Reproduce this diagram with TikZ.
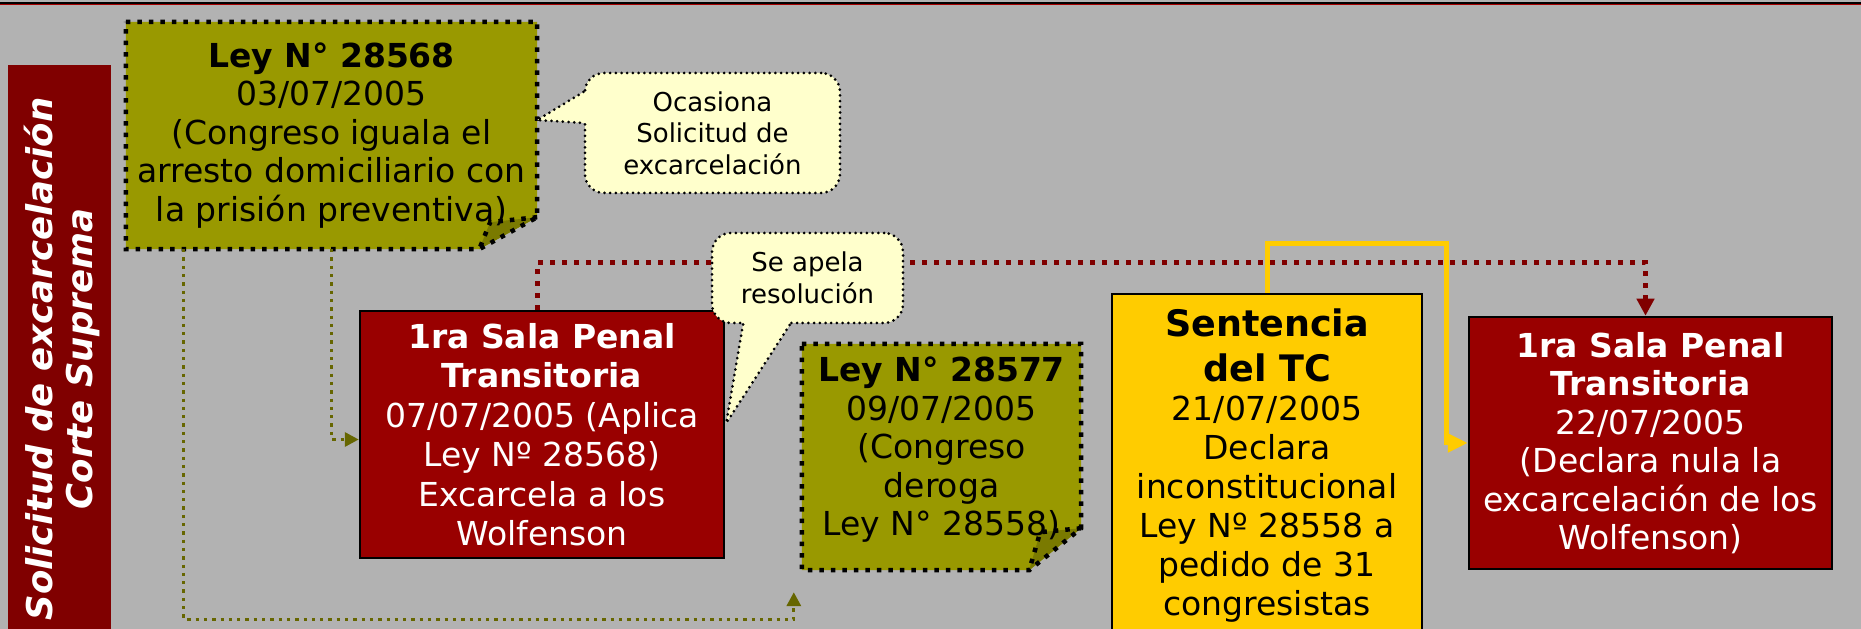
\documentclass[tikz,border=0pt]{standalone}
\usepackage{fontspec}
\setmainfont{DejaVu Sans}[ItalicFont={DejaVu Sans Oblique},BoldItalicFont={DejaVu Sans Bold Oblique}]
\usepackage{tikz}
\usetikzlibrary{positioning,arrows.meta,calc,backgrounds}
\definecolor{slate}{HTML}{B2B2B2}
\definecolor{maroon}{HTML}{800000}
\definecolor{crimson}{HTML}{990000}
\definecolor{olivefill}{HTML}{999900}
\definecolor{olivefold}{HTML}{7A7A00}
\definecolor{oliveline}{HTML}{666600}
\definecolor{notefill}{HTML}{FFFFCC}
\definecolor{amber}{HTML}{FFCC00}
\newcommand{\leysize}{\fontsize{33}{38.5}\selectfont}
\newcommand{\notesize}{\fontsize{26}{31.5}\selectfont}
\newcommand{\tcsize}{\fontsize{36.5}{45}\selectfont\bfseries}
\newcommand{\sidesize}{\fontsize{35.5}{40}\selectfont\bfseries\itshape}
\tikzset{
  leybox/.style={inner sep=0pt, align=center, font=\leysize},
  leyframe/.style={draw=black, line width=4.5pt, dash pattern=on 4.5pt off 7pt},
  salabox/.style={draw=black, line width=2.5pt, fill=crimson, text=white, inner sep=0pt, align=center, font=\leysize},
  tcbox/.style={draw=black, line width=2.5pt, fill=amber, inner sep=0pt, align=center, font=\fontsize{33}{39}\selectfont},
  notebox/.style={draw=black, line width=3pt, line cap=round, dash pattern=on 0pt off 5.7pt, fill=notefill, rounded corners=19pt, inner sep=0pt, align=center, font=\notesize},
  noteedge/.style={draw=black, line width=3pt, line cap=round, dash pattern=on 0pt off 5.7pt},
  sidebar/.style={fill=maroon, inner sep=0pt, minimum width=103pt},
  feedarrow/.style={-{Triangle[length=14pt,width=14pt]}, draw=oliveline, line width=3.3pt, dash pattern=on 3.3pt off 5pt},
  appealarrow/.style={-{Triangle[length=17pt,width=17pt]}, draw=maroon, line width=5pt, dash pattern=on 5pt off 7pt},
  rulingarrow/.style={-{Triangle[length=20pt,width=18pt]}, draw=amber, line width=5pt}
}
\begin{document}
\begin{tikzpicture}[x=1pt, y=1pt]
  \useasboundingbox (0,0) rectangle (1861,629);
  \begin{scope}[on background layer]
    \fill[slate] (0,0) rectangle (1861,629);
  \end{scope}
  \draw[black, line width=1.4pt] (0,625.9) -- (1861,625.9);
  \draw[maroon!70!red, line width=1.4pt] (0,624.6) -- (1861,624.6);
  \node[sidebar, minimum height=600pt, anchor=north] (bar) at (59.5,564) {};
  \node[font=\sidesize, text=white, rotate=90, align=center] (bartext) at (62,270) {Solicitud de excarcelación\\Corte Suprema};
  \node[leybox, minimum width=411pt, minimum height=227pt] (ley1) at (331.5,493.5) {\textbf{Ley N° 28568}\\03/07/2005\\(Congreso iguala el\\arresto domiciliario con\\la prisión preventiva)};
  \node[leybox, minimum width=279pt, minimum height=226pt] (ley2) at (941.5,172) {};
  \node[leybox, below=13pt of ley2.north] (ley2text) {\textbf{Ley N° 28577}\\09/07/2005\\(Congreso\\deroga\\Ley N° 28558)};
  \node[salabox, minimum width=364pt, minimum height=247pt, font=\fontsize{33}{39.5}\selectfont] (sala1) at (542,194.5) {\textbf{1ra Sala Penal}\\\textbf{Transitoria}\\07/07/2005 (Aplica\\Ley Nº 28568)\\Excarcela a los\\Wolfenson};
  \node[tcbox, minimum width=310pt, minimum height=344pt] (tc) at (1267,163) {{\tcsize Sentencia}\\[6pt]{\tcsize del TC}\\21/07/2005\\Declara\\inconstitucional\\Ley Nº 28558 a\\pedido de 31\\congresistas};
  \node[salabox, minimum width=363pt, minimum height=252pt] (sala2) at (1650.5,186) {\textbf{1ra Sala Penal}\\\textbf{Transitoria}\\22/07/2005\\(Declara nula la\\excarcelación de los\\Wolfenson)};
  \begin{scope}[on background layer]
    \foreach \ley/\cx/\cy/\fx/\fy in {ley1/58/32/47/27, ley2/52/42/41/38} {
      \fill[olivefill] (\ley.north west) -- (\ley.north east) -- ($(\ley.south east)+(0,\cy)$) -- ($(\ley.south east)+(-\cx,0)$) -- (\ley.south west) -- cycle;
      \fill[olivefold] ($(\ley.south east)+(0,\cy)$) -- ($(\ley.south east)+(-\fx,\fy)$) -- ($(\ley.south east)+(-\cx,0)$) -- cycle;
      \draw[leyframe] (\ley.north west) -- (\ley.north east) -- ($(\ley.south east)+(0,\cy)$) -- ($(\ley.south east)+(-\cx,0)$) -- (\ley.south west) -- cycle;
      \draw[leyframe] ($(\ley.south east)+(0,\cy)$) -- ($(\ley.south east)+(-\fx,\fy)$) -- ($(\ley.south east)+(-\cx,0)$);
    }
  \end{scope}
  \draw[feedarrow] ($(ley1.south west)+(58,0)$) -- ++(0,-370) -| ($(ley2.south west)+(-8,-22)$);
  \draw[feedarrow] ($(ley1.south west)+(206,0)$) |- ([yshift=-5pt]sala1.west);
  \draw[appealarrow] ([xshift=-5pt]sala1.north) -- ++(0,47) -| ([xshift=-5pt]sala2.north);
  \draw[rulingarrow] (tc.north) |- ($(sala2.west)+(-21,199)$) |- (sala2.west);
  \node[notebox, minimum width=255pt, minimum height=120pt] (ocas) at (712.5,496) {Ocasiona\\Solicitud de\\excarcelación};
  \node[notebox, minimum width=191pt, minimum height=90pt] (apela) at (807.5,351) {Se apela\\resolución};
  \coordinate (ocastip) at ($(ley1.east)+(0,15.5)$);
  \coordinate (apelatip) at ($(sala1.east)+(1,11.5)$);
  \fill[notefill] (ocastip) -- ($(ocas.west)+(0,41)$) -- ($(ocas.west)+(5,41)$) -- ($(ocas.west)+(5,10)$) -- ($(ocas.west)+(0,10)$) -- cycle;
  \draw[noteedge] ($(ocas.west)+(0,41)$) -- (ocastip) -- ($(ocas.west)+(0,10)$);
  \fill[notefill] (apelatip) -- ($(apela.south)+(-64.5,0)$) -- ($(apela.south)+(-64.5,5)$) -- ($(apela.south)+(-17.5,5)$) -- ($(apela.south)+(-17.5,0)$) -- cycle;
  \draw[noteedge] ($(apela.south)+(-64.5,0)$) -- (apelatip) -- ($(apela.south)+(-17.5,0)$);
\end{tikzpicture}
\end{document}
